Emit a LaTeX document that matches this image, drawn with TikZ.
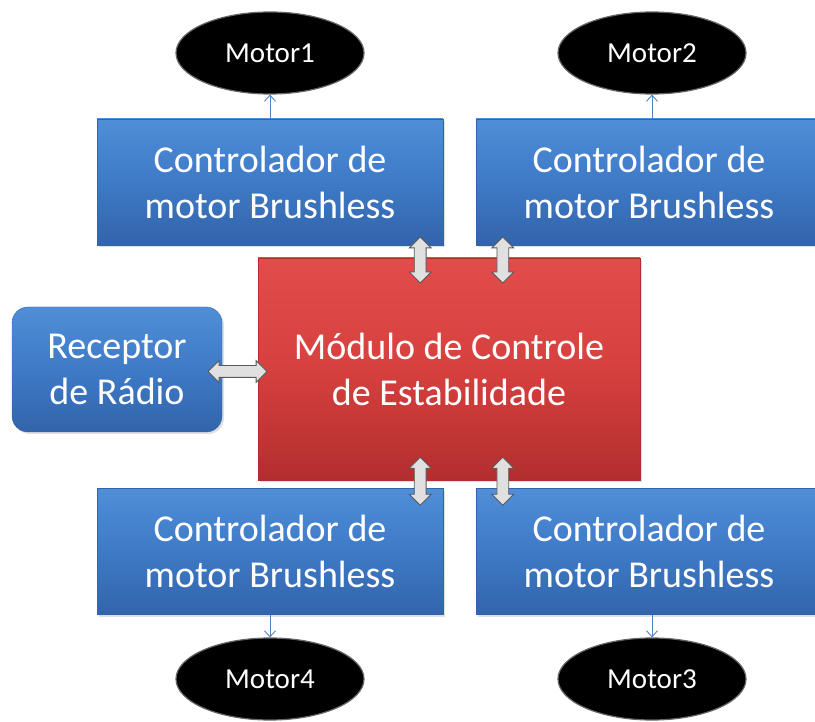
\documentclass[tikz,border=0pt]{standalone}
\usepackage{fontspec}
\setmainfont{Carlito}
\usetikzlibrary{shapes.geometric,shapes.arrows,shadows,arrows.meta}

\definecolor{ctrltop}{RGB}{80,142,216}
\definecolor{ctrlmid}{RGB}{62,122,199}
\definecolor{ctrlbot}{RGB}{50,100,170}
\definecolor{modtop}{RGB}{226,76,74}
\definecolor{modmid}{RGB}{214,64,62}
\definecolor{modbot}{RGB}{178,46,46}
\definecolor{wire}{RGB}{79,129,189}

\tikzset{
  motor/.style={ellipse, fill=black, draw=black!60, line width=1.2pt, text=white,
    minimum width=188pt, minimum height=82pt, inner sep=0pt,
    font=\fontsize{29}{34}\selectfont},
  ctrl/.style={rectangle, draw=ctrlbot, top color=ctrltop, bottom color=ctrlbot,
    middle color=ctrlmid, text=white, align=center,
    minimum width=346pt, minimum height=126pt, inner sep=0pt,
    font=\fontsize{38}{46}\selectfont,
    drop shadow={opacity=0.25, shadow xshift=2pt, shadow yshift=-2pt}},
  modbox/.style={rectangle, draw=modbot, top color=modtop, bottom color=modbot,
    middle color=modmid, text=white, align=center,
    minimum width=382pt, minimum height=222pt, inner sep=0pt,
    font=\fontsize{38}{46}\selectfont,
    drop shadow={opacity=0.25, shadow xshift=2pt, shadow yshift=-2pt}},
  darrow/.style={double arrow, draw=black!65, fill=black!12, line width=0.8pt,
    inner sep=5.5pt, double arrow head extend=5pt},
  wirearrow/.style={draw=wire, line width=0.9pt, -{Straight Barb[length=6pt,width=11pt]}}
}

\begin{document}
\begin{tikzpicture}[x=1pt,y=-1pt]
\useasboundingbox (0,0) rectangle (815,722);

\node[motor] (m1) at (270,53) {Motor1};
\node[motor] (m2) at (652,53) {Motor2};
\node[motor] (m4) at (270,679) {Motor4};
\node[motor] (m3) at (652,679) {Motor3};

\node[ctrl] (c1) at (270,182) {Controlador de\\motor Brushless};
\node[ctrl] (c2) at (649,182) {Controlador de\\motor Brushless};
\node[ctrl] (c4) at (270,551.5) {Controlador de\\motor Brushless};
\node[ctrl] (c3) at (649,551.5) {Controlador de\\motor Brushless};

\node[modbox] (mod) at (449,369) {Módulo de Controle\\de Estabilidade};
\node[ctrl, rounded corners=16pt, minimum width=210pt, minimum height=125pt]
  (rec) at (117,369.5) {Receptor\\de Rádio};

\draw[wirearrow] (c1.north -| m1.south) -- (m1.south);
\draw[wirearrow] (c2.north -| m2.south) -- (m2.south);
\draw[wirearrow] (c4.south -| m4.north) -- (m4.north);
\draw[wirearrow] (c3.south -| m3.north) -- (m3.north);

\coordinate (p1) at ([xshift=-23pt]c1.south east);
\coordinate (p2) at ([xshift=27pt]c2.south west);
\coordinate (p4) at ([xshift=-23pt]c4.north east);
\coordinate (p3) at ([xshift=27pt]c3.north west);

\path (p1) -- (p1 |- mod.north)
  node[darrow, midway, shape border rotate=90, minimum height=46pt, yshift=-8.5pt] {};
\path (p2) -- (p2 |- mod.north)
  node[darrow, midway, shape border rotate=90, minimum height=46pt, yshift=-8.5pt] {};
\path (p4) -- (p4 |- mod.south)
  node[darrow, midway, shape border rotate=90, minimum height=48pt, yshift=3pt] {};
\path (p3) -- (p3 |- mod.south)
  node[darrow, midway, shape border rotate=90, minimum height=48pt, yshift=3pt] {};
\path (rec.east) -- (rec.east -| mod.west)
  node[darrow, midway, minimum height=59pt, xshift=-2.5pt, yshift=-2pt] {};
\end{tikzpicture}
\end{document}
